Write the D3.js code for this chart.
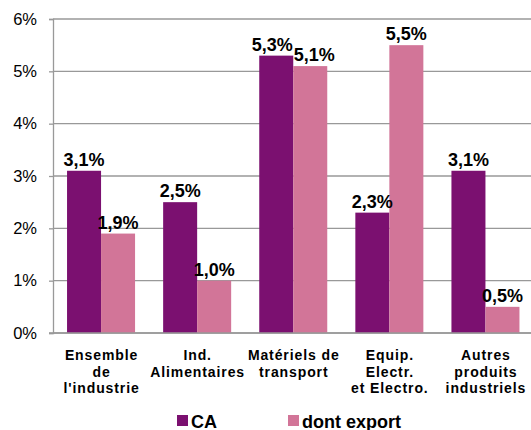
<!DOCTYPE html>
<html>
<head>
<meta charset="utf-8">
<script src="https://cdn.jsdelivr.net/npm/d3@7"></script>
<style>
  html, body { margin: 0; padding: 0; background: #fff; overflow: hidden; }
  svg { display: block; font-family: "Liberation Sans", Arial, sans-serif; }
</style>
</head>
<body>
<svg id="chart" width="531" height="430"></svg>
<script>
const categories = [
  ["Ensemble", "de", "l'industrie"],
  ["Ind.", "Alimentaires"],
  ["Matériels de", "transport"],
  ["Equip.", "Electr.", "et Electro."],
  ["Autres", "produits", "industriels"]
];
const seriesNames = ["CA", "dont export"];
const caValues = [3.1, 2.5, 5.3, 2.3, 3.1];
const exportValues = [1.9, 1.0, 5.1, 5.5, 0.5];
const yTicks = [0, 1, 2, 3, 4, 5, 6];
const colors = ["#7b1070", "#d27598"];

(function () {
const svg = d3.select("#chart");
const pLeft = 53, pRight = 533.5, pTop = 19, pBottom = 333;

const catKeys = categories.map((c, i) => i);
const x0 = d3.scaleBand().domain(catKeys).range([pLeft, pRight]).padding(0);
const x1 = d3.scaleBand().domain(seriesNames).range([0, x0.bandwidth()]).paddingInner(0).paddingOuter(0.413);
const y = d3.scaleLinear().domain([0, 6]).range([pBottom, pTop]);

// gridlines
svg.append("g").selectAll("line").data(yTicks).join("line")
  .attr("x1", pLeft).attr("x2", 531)
  .attr("y1", d => y(d)).attr("y2", d => y(d))
  .attr("stroke", "#999").attr("stroke-width", 1.3);

// y axis
const yAxis = svg.append("g").attr("transform", `translate(${pLeft},0)`)
  .call(d3.axisLeft(y).tickValues(yTicks).tickSize(4).tickPadding(12).tickFormat(d => d + "%"));
yAxis.select(".domain").attr("stroke", "#999").attr("stroke-width", 1.3);
yAxis.selectAll(".tick line").attr("stroke", "#999").attr("stroke-width", 1.3);
yAxis.selectAll(".tick text").attr("font-size", 16.5).attr("fill", "#000")
  .attr("font-family", "'Liberation Sans', Arial, sans-serif");

// bars
const data = catKeys.map(i => ({ i, vals: [caValues[i], exportValues[i]] }));
const groups = svg.append("g").selectAll("g").data(data).join("g")
  .attr("transform", d => `translate(${x0(d.i)},0)`);

groups.selectAll("rect").data(d => d.vals.map((v, k) => ({ v, k }))).join("rect")
  .attr("x", d => x1(seriesNames[d.k]))
  .attr("width", x1.bandwidth())
  .attr("y", d => y(d.v))
  .attr("height", d => y(0) - y(d.v))
  .attr("fill", d => colors[d.k]);

// baseline on top
svg.append("line").attr("x1", pLeft - 4).attr("x2", 531)
  .attr("y1", y(0)).attr("y2", y(0)).attr("stroke", "#999").attr("stroke-width", 1.3);

// value labels
const labels = groups.selectAll("text.val").data(d => d.vals.map((v, k) => ({ v, k }))).join("text")
  .attr("class", "val")
  .attr("x", d => x1(seriesNames[d.k]) + x1.bandwidth() / 2)
  .attr("y", d => y(d.v) - 5)
  .attr("text-anchor", "middle")
  .attr("font-size", 18).attr("font-weight", "bold").attr("fill", "#000")
  .text(d => d.v.toFixed(1).replace(".", ",") + "%");

// push apart overlapping label pairs within a group
groups.each(function () {
  const t = d3.select(this).selectAll("text.val").nodes();
  if (t.length !== 2) return;
  const b0 = t[0].getBBox(), b1 = t[1].getBBox();
  const vOverlap = b0.y < b1.y + b1.height && b1.y < b0.y + b0.height;
  const hOverlap = (b0.x + b0.width) - b1.x;
  if (vOverlap && hOverlap > 0) {
    const s = hOverlap / 2 + 0.5;
    t[0].setAttribute("x", +t[0].getAttribute("x") - s);
    t[1].setAttribute("x", +t[1].getAttribute("x") + s);
  }
});

// category labels
const catG = svg.append("g");
categories.forEach((lines, i) => {
  const cx = x0(i) + x0.bandwidth() / 2 + 0.5;
  const t = catG.append("text")
    .attr("x", cx)
    .attr("y", 360)
    .attr("text-anchor", "middle")
    .attr("font-size", 14).attr("font-weight", "bold")
    .attr("letter-spacing", "0.9px").attr("fill", "#000");
  lines.forEach((ln, j) => {
    t.append("tspan").attr("x", cx).attr("dy", j === 0 ? 0 : 16.5).text(ln);
  });
});

// legend
const legendX = [177, 288];
const leg = svg.append("g");
seriesNames.forEach((name, k) => {
  leg.append("rect").attr("x", legendX[k]).attr("y", 415).attr("width", 11).attr("height", 11).attr("fill", colors[k]);
  leg.append("text").attr("x", legendX[k] + 14).attr("y", 427.5)
    .attr("font-size", 18).attr("font-weight", "bold").attr("fill", "#000").text(name);
});
})();
</script>
</body>
</html>
